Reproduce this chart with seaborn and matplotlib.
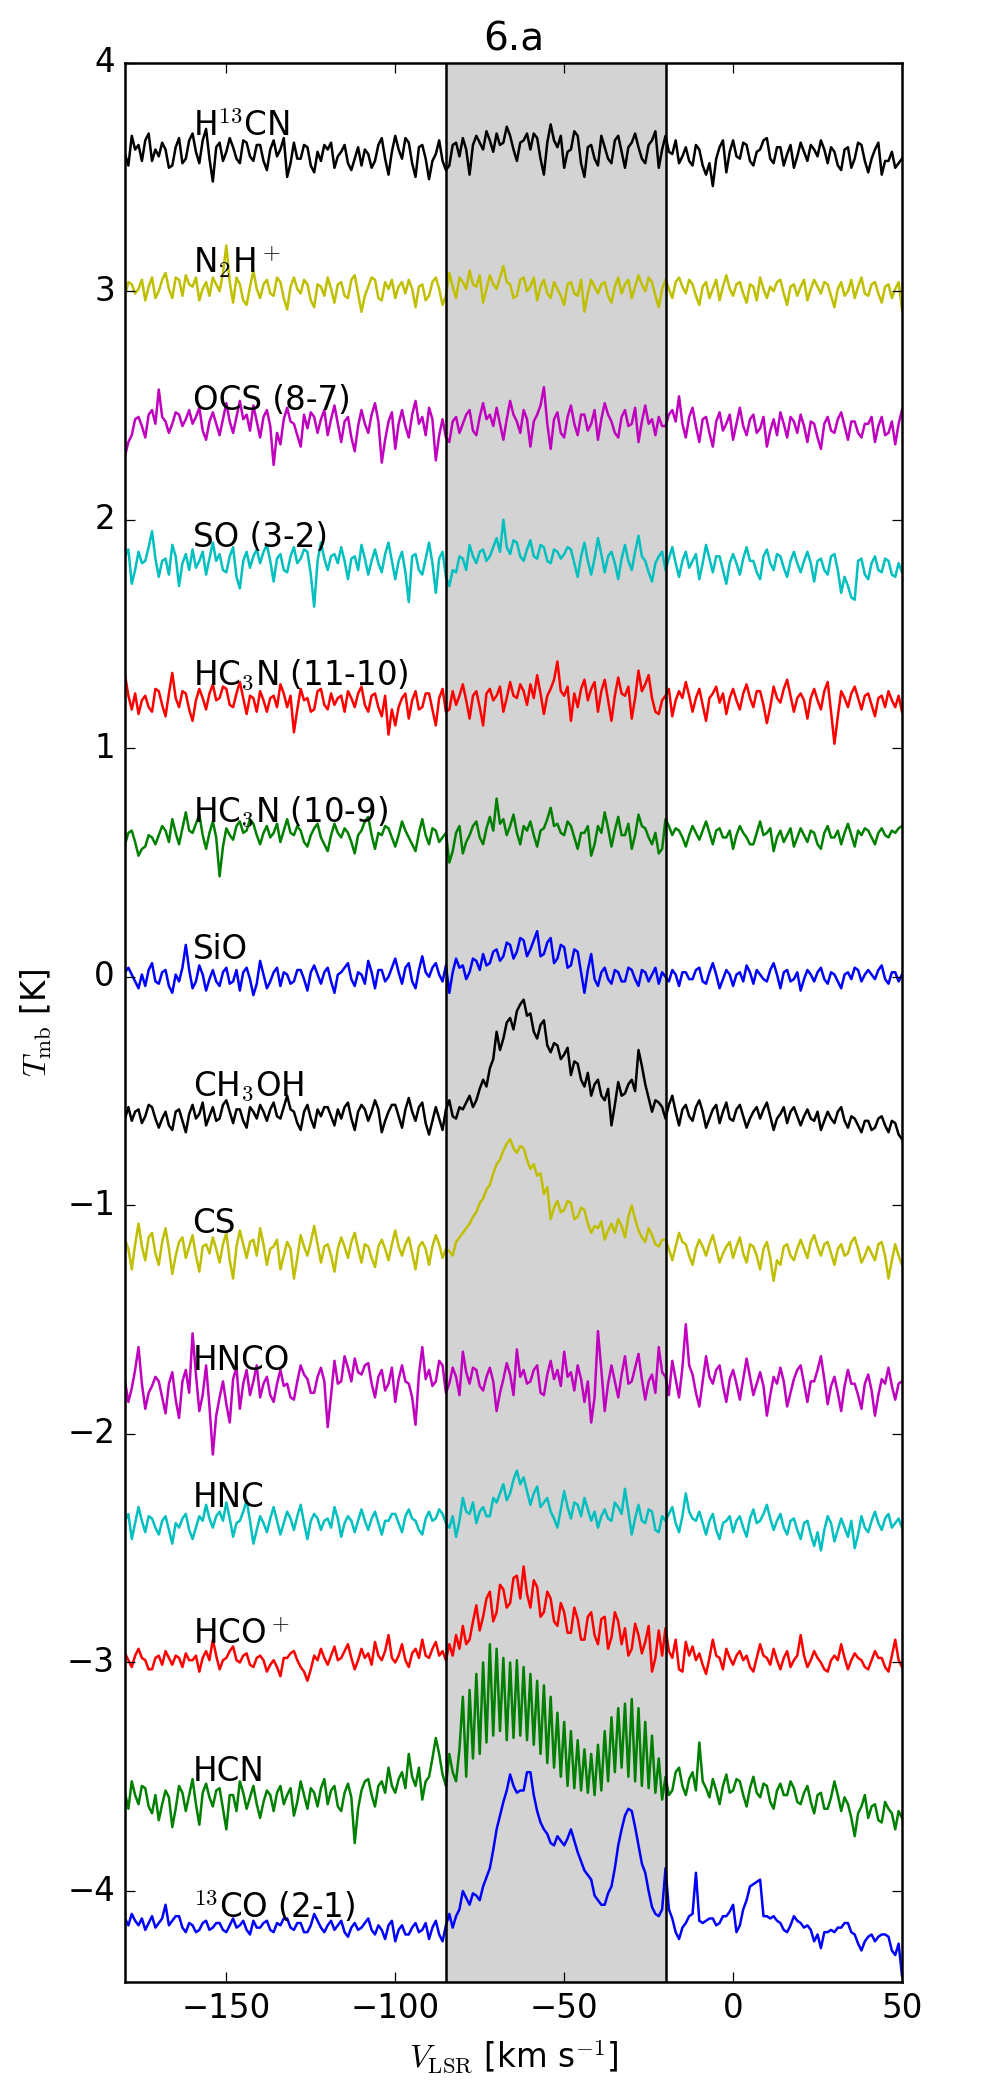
import numpy as np
import pandas as pd
import matplotlib
matplotlib.use("Agg")
import matplotlib.pyplot as plt
import seaborn as sns

plt.style.use("classic")
plt.rcParams["figure.facecolor"] = "white"
plt.rcParams["savefig.facecolor"] = "white"
plt.rcParams["font.size"] = 13

# velocity axis of the spectra (first channel, channel width), km/s
V_START = -180.0
V_STEP = 1.0

species = [
    r"H$^{13}$CN", r"N$_2$H$^+$", "OCS (8-7)", "SO (3-2)",
    r"HC$_3$N (11-10)", r"HC$_3$N (10-9)", "SiO", r"CH$_3$OH",
    "CS", "HNCO", "HNC", r"HCO$^+$", "HCN", r"$^{13}$CO (2-1)",
]
offsets = [3.6, 3.0, 2.4, 1.8, 1.2, 0.6, 0.0, -0.6, -1.2, -1.8, -2.4, -3.0, -3.6, -4.2]
colors = ["k", "y", "m", "c", "r", "g", "b", "k", "y", "m", "c", "r", "g", "b"]

# spectra in units of 0.01 K (offset removed)
# one row = 10 channels (10 km/s), from -180 to +50 km/s
h13cn = [0, -5, 8, 2, 4, -3, 6, 9, -3, 2,
         -1, 5, 2, -6, -5, 3, 7, -4, -2, 6,
         9, 1, -4, 6, 11, -2, -12, 3, 5, -3,
         1, 7, 3, -2, -4, 6, 5, -1, -3, 4,
         4, -3, -7, 2, 6, -1, 2, 7, -10, -4,
         5, -2, -2, 4, 3, -5, -8, 1, -3, 4,
         2, 5, -6, -1, 1, 4, -4, -7, -2, 3,
         -5, 2, 0, -6, -3, 4, 7, -2, -9, 1,
         8, 2, -2, 7, 5, -4, -10, 3, 4, -2,
         -11, -3, 0, 6, -3, -7, -5, 4, 5, -1,
         7, 2, -9, 4, 8, 5, 2, 10, 6, 1,
         9, 4, 5, 12, 8, 2, -3, 5, 6, 9,
         2, 9, 7, -2, -9, 5, 13, 6, 3, 8,
         -6, 1, 2, 10, 8, -4, -10, 3, 4, -2,
         -5, 8, 3, -2, -4, 6, 8, 1, -6, 3,
         5, 9, 3, -2, -4, 4, 6, 10, -6, 2,
         8, 1, 0, 6, -4, -1, 3, -3, -5, 4,
         2, -5, -9, -4, -14, -2, 3, 6, -8, 1,
         6, -1, -2, 5, 4, -3, -5, 1, 2, 6,
         7, -2, -4, 3, 3, -5, 0, 4, -6, -1,
         5, 1, -3, 4, 2, -1, 6, 2, -4, 3,
         1, -5, -7, 2, 3, -6, -2, 5, 4, -3,
         -8, -2, 2, 5, -9, -3, -3, 1, -6, -4,
         -2]
n2hp = [-2, 4, 3, -1, 1, 5, -4, 2, 6, -3,
        0, 5, 8, 1, -3, 6, 5, -2, 7, 3,
        2, 6, -4, 1, 4, -2, 6, 3, 0, 8,
        20, 4, -5, 6, 3, -4, -6, 2, 9, 1,
        -3, 3, 5, -1, -2, 6, 4, -3, -8, 2,
        6, 1, -1, 5, 3, -4, -7, 3, 2, -2,
        6, 1, -5, 3, 4, -2, -3, 5, 7, -1,
        -9, -2, 2, 6, 5, -3, -4, 4, 1, 5,
        -3, 2, 4, -1, 5, 1, -7, 2, 3, -4,
        -2, 4, 6, 1, -6, -2, 8, 2, -3, 6,
        4, 1, 9, 3, 2, 7, -5, 1, 7, 3,
        1, 6, 11, 4, 3, -3, -2, 5, 6, 0,
        2, 6, -4, 2, 5, -1, -3, 4, 1, -2,
        -6, 3, 4, -1, -2, 5, -9, -1, 5, 2,
        -1, 3, 4, -2, -5, 2, 6, -1, 3, 5,
        -3, 2, 7, 3, 0, 6, 4, -2, -7, 1,
        5, 1, -3, 4, 6, 2, -1, 5, 3, -2,
        -6, 2, 4, -3, 1, 5, -4, 2, 7, 1,
        -2, 3, 4, -1, -5, 3, 2, -4, 6, 1,
        -3, 2, 0, 4, 5, -1, -6, 2, 3, -2,
        2, 5, -4, 1, 5, 2, -1, 4, 3, -2,
        -7, 1, 4, -2, 0, 5, -3, 2, 6, -1,
        -2, 3, 4, -1, -5, 2, 3, -3, 1, 4,
        -8]
ocs = [-12, -6, -3, 4, 5, 1, -4, 6, 8, 2,
       17, 5, 3, -2, 2, 7, 6, 1, 4, 8,
       2, 5, 9, -1, -5, 3, 7, 2, -3, 4,
       11, 3, -2, 5, 12, 4, 6, -1, 10, 3,
       -4, 5, 8, 1, -16, -2, -7, 4, 9, 3,
       2, -3, -8, 6, 0, 7, 5, -2, 4, 8,
       -3, 4, 10, 2, -6, 3, 5, -4, -10, 1,
       8, 2, -2, 6, 11, 3, -15, -5, 3, 7,
       -9, 2, 8, 1, -4, 6, 12, 2, 5, -3,
       9, 4, -14, -3, 4, -4, -6, 3, 5, -2,
       2, 6, 8, -1, -3, 5, 11, 4, 6, 1,
       9, 2, -5, 4, 12, 6, 3, -2, 8, 4,
       -8, 3, 6, 10, 18, 2, -9, 4, 7, -2,
       -4, 5, 10, 2, -3, 6, 6, -1, 2, 8,
       -5, 4, 11, 6, 3, -2, -4, 5, 8, 1,
       2, 9, -6, 3, 10, 2, 4, -3, 5, 1,
       1, 6, 8, 3, 14, 2, -4, 5, 9, 1,
       -6, 4, 5, -2, -8, 3, 7, -1, 2, 6,
       -5, 2, 9, 1, -3, 4, 6, -2, 0, 5,
       -8, -1, 4, -3, 7, 2, -4, 5, 3, -2,
       6, 1, -6, 3, 2, -4, -9, 2, 5, -1,
       -2, 4, 7, 1, -5, 3, 3, -2, -4, 2,
       2, 5, -6, 1, 5, -3, -2, 3, -7, 2,
       8]
so = [4, 7, -8, -2, 6, 1, 2, 8, 15, 3,
      -5, 2, 3, -4, 9, 4, -9, 1, 5, -2,
      7, -1, 2, 6, -4, 3, 10, 2, 5, -2,
      -3, 4, 8, -5, -10, 2, 6, -1, 4, 7,
      1, 6, 9, 2, -7, 3, 5, -2, -3, 4,
      8, 1, 3, 7, 6, -4, -18, 2, 10, 3,
      -2, 4, 5, 1, 8, 2, -6, 3, 4, -2,
      9, 3, -4, 2, 7, 1, -3, 5, 10, 2,
      -6, 2, 6, -3, -16, 4, 5, -2, -4, 3,
      10, 1, -12, 3, 6, -5, -9, -2, -3, 4,
      3, -2, 9, 4, 1, 6, 7, 2, 4, 8,
      12, 6, 20, 8, 5, 11, 10, 4, 2, 7,
      11, 4, 3, 9, 8, 2, 1, 7, 6, 3,
      5, 8, 7, 1, -5, 4, 10, 2, -4, 3,
      12, 5, -3, 4, 6, 1, -6, 3, 9, 2,
      -2, 6, 13, 4, 2, -3, -7, 1, 4, 6,
      -2, 3, 8, 1, -5, 2, 6, -1, 2, 5,
      -6, 1, 9, 3, -3, 4, 4, -2, -8, 1,
      5, 1, -4, 3, 8, 2, 2, -3, -6, 4,
      7, 1, -2, 5, 4, -1, -5, 2, 6, 1,
      -3, 2, 6, 1, -7, 2, 3, -2, -4, 4,
      5, -2, -12, -5, -9, -14, -15, 2, 3, -4,
      -6, 1, 4, -2, -3, 3, 2, -4, -5, 1,
      -3]
hc3n_11 = [12, 3, -3, 4, -5, 1, 3, -2, -4, 6,
           5, -1, -6, 4, 13, 2, -2, 5, 4, -3,
           -8, 1, 6, 2, -3, 4, 8, 1, 2, 7,
           6, -1, -2, 4, 9, 2, -5, 3, 2, -4,
           5, 1, -4, 2, 3, -2, 8, 4, -2, 3,
           -13, -3, 6, 1, 2, -4, -3, 5, 6, -1,
           -3, 4, -1, 2, 3, -4, 5, 2, -2, 4,
           7, -1, -4, 3, 4, -2, -6, 3, -14, -3,
           -10, -2, 2, 4, -7, 1, 5, -3, -2, 4,
           4, -3, -10, 2, 6, -4, -3, 5, -1, 3,
           8, 1, -7, 3, 5, -2, -10, 4, 6, 1,
           3, 7, -4, 2, 9, 3, 2, 8, 5, -1,
           8, 2, 12, 4, -5, 3, 6, 10, 18, 5,
           3, 7, -8, 4, -2, 6, 10, 1, 6, 9,
           -4, 5, 10, 1, -8, 3, 11, 4, 3, 7,
           -7, 2, 14, 5, 8, 12, 2, -4, -5, 1,
           3, 6, -6, 1, 5, 2, 9, 3, -4, 2,
           6, -1, -8, 2, 4, 7, 0, 4, -5, 2,
           6, 1, -3, 4, 8, 2, -2, 5, 5, -1,
           -9, -2, 7, 2, 0, 6, 10, 3, -4, 2,
           4, 1, -7, 2, 6, 1, -3, 5, 9, -4,
           -18, -6, 5, 2, -2, 4, 7, 2, -3, 3,
           4, -1, -6, 2, 3, -2, 5, 1, -2, 3,
           -4]
hc3n_10 = [-2, 3, 4, -1, -7, -4, -3, 2, 1, -2,
           2, 6, 4, -1, 9, 3, -2, 5, 12, 4,
           3, 7, 11, 2, -4, 3, 8, 1, -16, -3,
           5, 2, 0, 6, 8, 3, 4, 9, 7, 2,
           -2, 3, 6, 1, 3, 7, -1, 4, 9, 3,
           2, 6, 4, -1, -3, 2, 5, 7, 1, -2,
           -5, 2, 7, 3, 1, 5, 3, -1, -6, 2,
           4, 8, 10, 2, -4, 3, 2, 6, 5, 1,
           -3, 2, 8, 4, 1, -2, -5, 3, 9, 2,
           -2, 5, 4, -1, 1, 3, -10, -5, 3, 6,
           -6, -1, 2, 6, 8, 1, -2, 5, 10, 4,
           18, 7, 9, 2, 6, 11, 3, -2, 6, 4,
           8, 2, -3, 4, 5, 9, 14, 6, 7, 3,
           2, 8, 6, 1, -4, 3, 3, 6, -7, -2,
           6, 3, 12, 5, -3, 4, 10, 2, 2, 7,
           -4, 2, 11, 6, 5, 1, -2, 3, -6, -4,
           9, 6, 2, 5, 4, 1, -3, 2, 6, 3,
           0, 4, 8, 3, -2, 4, 5, 1, 1, 4,
           -4, 2, 6, 3, 1, -2, -2, 3, 8, 2,
           3, 5, -5, 1, 4, -1, 2, 5, -3, 1,
           5, 2, -1, 4, 3, -2, -4, 3, 6, 1,
           1, 4, -2, 3, 7, 2, -3, 4, 2, 5,
           4, 1, -2, 3, 5, 2, 1, 4, 3, 5,
           6]
sio = [2, 4, 1, -2, -5, 1, -4, 3, 6, -2,
       -3, 2, 3, -4, -7, 1, -2, 4, 14, 3,
       -5, -2, 5, 1, -6, -1, 3, -2, -4, 2,
       4, -3, -2, 3, -6, 2, 4, -1, -8, -3,
       7, 1, -5, -2, 2, 4, -4, 2, 1, -3,
       -2, 3, 3, -1, -6, 2, 5, 1, -3, 2,
       4, -2, -7, 1, 2, 4, 6, -1, -4, 2,
       1, -3, 7, 2, -5, 3, 3, -2, 0, 4,
       8, 2, -3, 4, 6, -2, -5, 3, 9, 2,
       0, 4, 6, 1, -2, 5, -7, 2, 8, 4,
       5, -1, 2, 8, 7, 3, 10, 5, 6, 11,
       12, 7, 9, 15, 14, 8, 11, 17, 16, 9,
       12, 16, 20, 9, 10, 15, 17, 6, 8, 14,
       13, 4, 5, 12, 11, 2, -7, 3, 10, -1,
       -4, 2, 4, -1, -3, 3, 2, -2, -2, 4,
       3, -1, -4, 3, 2, -2, 1, 4, -3, 2,
       0, -2, 3, 1, -4, 2, 2, -1, -1, 3,
       4, -2, -3, 2, 6, 1, -5, -1, 3, 1,
       -4, 1, 2, -2, 5, 2, -3, 3, 1, -1,
       -2, 3, 6, 1, -5, 2, 3, -2, -1, 2,
       -6, -1, 3, 1, -2, 2, 4, -1, -3, 2,
       1, -2, -5, 1, 2, -1, 4, 3, -2, 1,
       3, 1, -1, 3, 5, -1, -3, 2, 2, -2,
       1]
ch3oh = [-2, 3, -3, 1, 2, -4, -1, 4, 3, -2,
         -6, -2, 1, -5, -7, 1, 2, -3, -8, 0,
         4, -2, 0, 5, -5, -1, 3, -3, -2, 4,
         6, 1, -4, 2, 2, -3, -6, 3, 1, -2,
         4, 1, -3, 2, 5, -1, -2, 3, 8, 2,
         1, -4, -7, 1, 4, -2, -6, 2, -1, 3,
         3, -1, -5, 2, -2, 3, 5, -2, -7, 1,
         4, 2, -3, 1, 6, 2, -8, -3, 1, 4,
         4, -1, -6, 2, 7, 1, -3, 3, 5, -4,
         -9, -3, 3, -2, -7, 2, 6, -1, -2, 3,
         2, 5, 8, 3, 6, 11, 15, 12, 20, 24,
         36, 28, 33, 40, 42, 37, 45, 48, 50, 43,
         44, 36, 33, 39, 41, 30, 27, 31, 30, 24,
         26, 29, 17, 23, 22, 15, 12, 18, 8, 13,
         15, 8, 6, 11, -5, 4, 14, 8, 9, 13,
         15, 10, 28, 21, 13, 7, 1, 6, 5, 3,
         -2, 4, 8, 1, -5, 2, 4, -1, -3, 3,
         6, 1, -6, -2, 2, 4, -4, 1, 5, -2,
         -3, 2, 4, -1, -6, -2, 1, 3, -2, 2,
         5, -1, -7, -2, 0, 3, -4, 1, 3, -1,
         -5, -1, 2, -2, -3, 1, -7, -3, 1, -2,
         -4, 1, 3, -3, -6, -1, -2, -5, -8, -3,
         -3, -7, -6, -2, -1, -5, -8, -3, -4, -9,
         -11]
cs = [5, 1, -8, 3, 12, 2, -4, 6, 8, -1,
      -6, 4, 10, 1, -10, -2, 4, 6, -3, 2,
      7, -2, -9, 2, 3, -1, 6, 1, -5, 3,
      8, -4, -12, 2, 9, 3, -3, 4, 5, -2,
      10, 3, -6, 1, 2, 5, -8, -2, 4, 1,
      -12, -3, 7, 2, -2, 4, 11, 3, -5, 2,
      3, -2, -9, 1, 6, 2, -3, 4, 8, 1,
      -5, 3, 2, -3, -7, 2, 5, 1, -4, 3,
      9, 2, -2, 3, 6, -1, -8, 2, 4, 1,
      -6, 2, 7, 3, -3, 1, 0, -2, 4, 6,
      8, 10, 12, 15, 17, 21, 23, 27, 29, 34,
      38, 40, 44, 47, 49, 45, 43, 46, 45, 40,
      36, 38, 33, 34, 25, 28, 14, 19, 22, 17,
      18, 22, 21, 14, 15, 19, 18, 12, 8, 11,
      10, 13, 5, 9, 12, 8, 14, 11, 6, 15,
      20, 14, 9, 6, 4, 10, 7, 3, 2, 5,
      5, 1, -4, 2, 8, 4, 3, -2, -6, 1,
      5, 2, -2, 3, 7, 1, -5, -1, 2, 4,
      -3, 2, 6, -1, -5, 3, 2, -2, -8, 1,
      4, -3, -13, -4, -6, 2, 3, -2, -4, 1,
      5, 1, -3, 4, 7, 2, -2, 3, 4, -1,
      -6, 1, 3, -2, -1, 4, 6, 1, -5, -2,
      2, -1, -4, 3, 4, -2, -12, -4, 3, -2,
      -6]
hnco = [3, -6, 0, 8, 18, 2, -9, -2, 1, 5,
        3, -4, -11, 2, 7, -5, -13, 3, 8, -2,
        24, 6, -10, -3, 10, -8, -29, -12, -4, 3,
        -7, -15, 4, 9, -9, 2, 8, -3, 3, 10,
        -4, 2, 5, -3, -6, 2, 8, 1, 2, -4,
        -5, 3, 10, 6, 4, -2, -2, 5, 9, 3,
        -17, -3, 12, 2, 3, 14, 9, 3, 13, 7,
        6, 10, 11, 2, -4, 5, 8, -1, 2, 9,
        -6, 4, 10, 3, 2, -4, -16, 6, 18, 4,
        8, 1, 3, 12, 10, -2, 2, 9, 5, -3,
        16, 7, 2, 9, 8, 1, -1, 5, 9, 3,
        -10, -2, 4, 11, 6, -3, 17, 5, 8, 2,
        3, 8, 10, -2, -3, 6, 12, 4, 8, 1,
        16, 5, 7, -1, 10, 4, -6, 3, -15, -4,
        25, 8, -10, 2, 10, 3, -4, 6, 14, 2,
        3, 9, 15, 4, -5, 3, 6, -2, 18, 7,
        5, -3, 12, 4, -4, 9, 28, 10, 6, -2,
        -8, 3, 14, 5, 2, 8, 10, 1, -6, 4,
        8, 2, -5, 4, 13, 5, -3, 2, 7, 1,
        -12, -3, 5, 2, 9, 3, -8, -2, 4, 8,
        10, 2, -6, 3, 3, 8, 14, 4, -7, 1,
        5, -2, -10, 1, 8, 2, 2, -3, -9, 2,
        6, -1, -12, -3, 4, 2, 9, 1, -5, 2,
        3]
hnc = [2, 5, -6, 1, 8, 2, -3, 4, 3, -1,
       -4, 2, 4, -2, -8, 1, -1, 3, 5, -2,
       -6, -1, 4, 2, 9, 3, -1, 4, 6, 2,
       10, 3, -5, 1, 2, 6, 11, 2, -8, -2,
       4, 1, -3, 3, 8, 2, -4, 1, 6, 3,
       -2, 4, 9, 1, -6, 2, 5, 3, -2, 2,
       3, -1, 8, 3, -5, 1, 4, 2, -3, 2,
       7, 2, -2, 3, 6, 1, -4, 2, 2, 5,
       5, 1, -3, 4, 7, 3, 2, -2, -4, 3,
       6, 2, 3, 7, 5, 1, -1, 4, -5, 2,
       12, 6, 5, 10, 1, 6, 8, 4, 4, 12,
       10, 14, 18, 11, 14, 20, 24, 18, 21, 15,
       9, 14, 17, 8, 10, 12, 6, 3, -1, 7,
       15, 8, 3, 10, 9, 4, 12, 7, 2, 6,
       -1, 4, 7, 3, 2, 10, 8, 5, 16, 6,
       -4, 3, 9, 2, 1, 7, 6, -2, -3, 4,
       2, 5, 8, 1, -3, 4, 14, 6, 3, 2,
       6, 1, -4, 2, 5, -2, -6, 1, 2, 4,
       -3, 2, 4, -1, -5, 3, 7, 1, 2, 5,
       9, 3, -2, 2, 5, -1, -4, 2, 3, -2,
       -6, 1, 2, -4, -9, -3, -11, -2, 4, 1,
       -7, -2, 3, -1, -5, 2, -10, -4, 4, -1,
       -3, 2, 6, 1, -2, 3, 5, -1, 1, 3,
       -1]
hcop = [4, 1, -2, 3, 6, 2, 1, -3, -3, 2,
        3, -1, 5, 2, -1, 3, 2, -2, 4, 1,
        1, 3, -4, 2, 5, 1, 10, 3, -3, 1,
        2, 5, 7, 1, 0, 3, 4, -1, -2, 2,
        3, 1, -4, -1, 1, -2, -6, 2, 2, 4,
        5, 1, -2, -4, -8, -3, 3, 1, 6, 2,
        -1, 3, 7, 1, 2, 5, 8, 2, -3, 1,
        6, 2, 4, -1, 9, 3, 1, 5, 12, 2,
        0, 3, 8, 1, -2, 4, 6, 2, 10, 3,
        2, 6, 9, 3, 5, 1, 8, 3, 12, 6,
        16, 8, 10, 18, 25, 14, 20, 28, 31, 18,
        22, 34, 32, 24, 26, 37, 38, 28, 42, 30,
        24, 36, 33, 20, 22, 31, 28, 18, 16, 26,
        22, 13, 13, 24, 19, 10, 10, 20, 22, 12,
        8, 19, 20, 6, 11, 22, 18, 8, 15, 3,
        6, 17, 12, 4, 9, 16, -4, 2, 14, 3,
        15, 5, 2, 10, -3, -4, 9, 3, 7, 1,
        4, -1, -5, 2, 10, 3, 2, -3, 6, 2,
        -1, 3, 5, 1, 3, -2, -4, 2, 8, 3,
        2, -1, 6, 1, -3, 2, 5, -2, 1, 3,
        12, 3, -2, 1, 5, 2, 0, -3, -4, 1,
        3, 1, 8, 2, -3, 1, 4, 2, 1, -2,
        -3, 1, 5, 2, 2, -2, -4, 3, 10, 1,
        -2]
hcn = [3, -4, 8, 2, -2, 6, 5, -3, -6, 2,
       -9, -2, 4, 1, -12, -4, 6, 3, -5, 2,
       9, -2, -11, 3, 7, 1, -3, 4, 5, -4,
       -13, 2, 2, -5, 8, 3, -4, 1, 6, -2,
       -8, -1, 4, 2, -5, 3, 6, -2, 2, 5,
       -7, -1, 8, 2, -4, 5, 3, -3, 5, 9,
       -2, 4, 6, -3, -5, 3, 7, 1, -19, -4,
       4, 8, 9, 2, -3, 6, 8, 3, 14, 6,
       3, 9, 12, 5, 20, 10, 6, 14, 0, 8,
       10, 18, 27, 20, 11, 6, 20, 12, 8, 22,
       45, 10, 48, 18, 55, 20, 60, 25, 68, 28,
       66, 30, 62, 26, 60, 27, 61, 28, 58, 26,
       55, 24, 52, 20, 50, 16, 45, 14, 38, 10,
       34, 6, 30, 5, 26, 4, 22, 3, 20, 2,
       24, 4, 30, 8, 36, 12, 40, 14, 42, 10,
       44, 8, 40, 6, 34, 5, 28, 3, 18, 0,
       10, 2, 4, 12, 14, 6, 2, 9, 12, 4,
       25, 8, 5, 1, 9, 4, -2, 6, 11, 3,
       4, 9, 8, 2, -3, 5, 10, 3, 1, 7,
       6, -1, -4, 4, 7, 2, 2, 8, 5, -1,
       -2, 3, 6, -1, -6, 2, 3, -4, -4, 1,
       8, 2, -5, 1, -2, -8, -16, -6, -3, 2,
       -8, -3, -2, -9, -10, -1, -4, -6, -13, -5,
       -8]
co13 = [8, 5, 10, 7, 5, 8, 3, 6, 9, 4,
        6, 8, 14, 5, 7, 9, 9, 4, 2, 6,
        5, 2, 3, 6, 7, 3, 4, 6, 6, 3,
        2, 5, 8, 4, 5, 7, 3, 1, 7, 4,
        4, 6, 7, 3, 2, 6, 5, 8, 8, 4,
        3, 6, 6, 2, 2, 5, 10, 7, 4, 2,
        5, 7, 3, 5, 7, 2, 0, 4, 6, 3,
        4, 6, 8, 3, 1, 5, 3, -1, 5, 7,
        -2, 3, 5, 1, 1, 4, 6, 2, 3, 6,
        -1, 4, 7, 1, -2, 5, 10, 4, 9, 12,
        20, 17, 14, 19, 18, 16, 22, 26, 30, 38,
        47, 53, 59, 64, 71, 66, 63, 64, 64, 72,
        72, 62, 55, 50, 47, 45, 41, 40, 44, 42,
        40, 43, 47, 42, 37, 33, 29, 27, 25, 18,
        16, 14, 14, 19, 22, 30, 40, 47, 53, 56,
        55, 48, 40, 32, 28, 20, 13, 10, 9, 12,
        30, 12, 8, 2, -1, 4, 6, 9, 10, 28,
        7, 6, 7, 8, 8, 5, 6, 9, 9, 11,
        14, 2, 5, 12, 16, 22, 23, 24, 25, 9,
        9, 8, 9, 7, 6, 3, 2, 5, 9, 7,
        6, 4, 5, 3, -2, 1, -5, 2, 2, 3,
        2, 4, 4, 6, 6, 2, 1, -3, -6, -2,
        0, 1, -2, 0, 1, 1, 0, -6, -8, -3,
        -17]

spectra = [h13cn, n2hp, ocs, so, hc3n_11, hc3n_10, sio,
           ch3oh, cs, hnco, hnc, hcop, hcn, co13]

rows = []
for name, off, spec in zip(species, offsets, spectra):
    vel = V_START + V_STEP * np.arange(len(spec))
    for v, t in zip(vel, spec):
        rows.append({"species": name, "v": v, "T": off + 0.01 * t})
df = pd.DataFrame(rows)

fig = plt.figure(figsize=(1000 / 180, 2089 / 180))
ax = fig.add_axes([0.125, 0.051, 0.777, 0.919])

# velocity window used for the line integration
ax.axvspan(-85, -20, color="lightgray", lw=0, zorder=0)
sns.lineplot(data=df, x="v", y="T", hue="species", hue_order=species,
             palette=dict(zip(species, colors)), estimator=None, sort=False,
             legend=False, lw=1.0, ax=ax)
ax.axvline(-85, color="k", lw=1.0)
ax.axvline(-20, color="k", lw=1.0)

for name, off in zip(species, offsets):
    ax.text(-160, off + 0.08, name, fontsize=13)

ax.set_xlim(-180, 50)
ax.set_ylim(-4.4, 4)
ax.set_xticks([-150, -100, -50, 0, 50])
ax.set_yticks(range(-4, 5))
ax.set_xlabel(r"$V_{\rm LSR}$ [km s$^{-1}$]")
ax.set_ylabel(r"$T_{\rm mb}$ [K]")
ax.set_title("6.a")

fig.savefig("out.png", dpi=180)
